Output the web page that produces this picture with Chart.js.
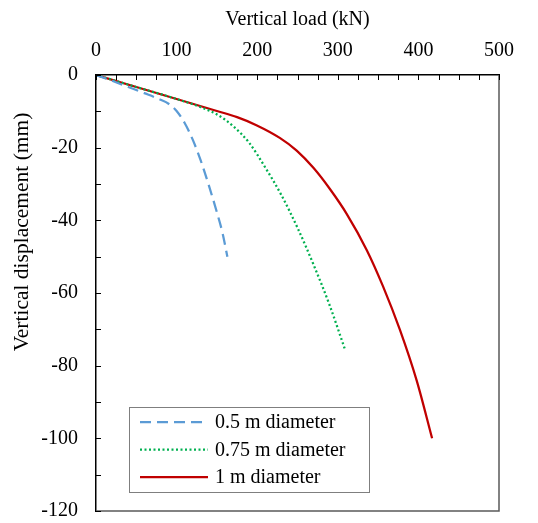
<!DOCTYPE html>
<html>
<head>
<meta charset="utf-8">
<script src="https://cdn.jsdelivr.net/npm/chart.js@4.4.1/dist/chart.umd.min.js"></script>
<style>
  html, body { margin: 0; padding: 0; background: #fff; }
  #wrap { width: 538px; height: 523px; position: relative; }
</style>
</head>
<body>
<div id="wrap"><canvas id="pileChart" width="538" height="523"></canvas></div>
<script>
// Load-displacement data
const loadSmall = [0, 20, 40, 60, 80, 90, 100, 110, 120, 130, 140, 150, 157, 163];
const dispSmall = [0, -1.6, -3.3, -5, -6.8, -7.9, -9.9, -13.2, -17.8, -23.6, -30.4, -37.8, -43.5, -50];

const loadMid = [0, 50, 100, 130, 150, 170, 190, 210, 230, 250, 270, 290, 309];
const dispMid = [0, -3.3, -6.6, -8.85, -10.85, -14.05, -18.65, -25.45, -33.05, -42.05, -52.25, -63.45, -75.6];

const loadLarge = [0, 50, 100, 150, 175, 199, 228, 249, 270, 290, 311, 336, 356, 377, 398, 417];
const dispLarge = [0, -3.3, -6.6, -9.9, -11.6, -13.8, -17.3, -20.8, -25.6, -31.3, -38.2, -48.2, -58.1, -70.1, -84.2, -100];

const seriesNames = ['0.5 m diameter', '0.75 m diameter', '1 m diameter'];

const xTitle = 'Vertical load (kN)';
const yTitle = 'Vertical displacement (mm)';

const FONT = "'Liberation Serif', 'Times New Roman', serif";

function toPoints(xs, ys) {
    return xs.map((x, i) => ({ x: x, y: ys[i] }));
}

// inward tick marks, right/bottom frame, y title and legend box
const decorations = {
    id: 'decorations',
    afterDraw(chart) {
        const ctx = chart.ctx;
        const area = chart.chartArea;
        const xs = chart.scales.x;
        const ys = chart.scales.y;
        ctx.save();

        // plot frame right + bottom
        ctx.strokeStyle = '#595959';
        ctx.lineWidth = 1.5;
        ctx.beginPath();
        ctx.moveTo(area.left, area.bottom);
        ctx.lineTo(area.right, area.bottom);
        ctx.lineTo(area.right, area.top);
        ctx.stroke();

        // ticks pointing into the plot
        ctx.strokeStyle = '#000';
        ctx.lineWidth = 1;
        ctx.beginPath();
        xs.ticks.forEach(t => {
            const px = Math.round(xs.getPixelForValue(t.value)) + 0.5;
            ctx.moveTo(px, area.top);
            ctx.lineTo(px, area.top + 5);
        });
        ys.ticks.forEach(t => {
            const py = Math.round(ys.getPixelForValue(t.value)) + 0.5;
            ctx.moveTo(area.left, py);
            ctx.lineTo(area.left + 5, py);
        });
        ctx.stroke();

        // y axis title
        ctx.fillStyle = '#000';
        ctx.font = '21.5px ' + FONT;
        ctx.textAlign = 'center';
        ctx.textBaseline = 'middle';
        ctx.translate(22, area.top + (area.bottom - area.top) * 0.36);
        ctx.rotate(-Math.PI / 2);
        ctx.fillText(yTitle, 0, 0);
        ctx.restore();

        // legend
        ctx.save();
        const bx = area.left + 33;
        const by = area.bottom - 104;
        const bw = 240;
        const bh = 85;
        ctx.fillStyle = '#fff';
        ctx.fillRect(bx, by, bw, bh);
        ctx.strokeStyle = '#7f7f7f';
        ctx.lineWidth = 1;
        ctx.strokeRect(bx + 0.5, by + 0.5, bw, bh);
        ctx.font = '20px ' + FONT;
        ctx.textAlign = 'left';
        ctx.textBaseline = 'middle';
        chart.data.datasets.forEach((ds, i) => {
            const ly = by + 15 + i * 27.5;
            ctx.strokeStyle = ds.borderColor;
            ctx.lineWidth = ds.borderWidth;
            ctx.setLineDash(ds.borderDash || []);
            ctx.beginPath();
            ctx.moveTo(bx + 11, ly);
            ctx.lineTo(bx + 79, ly);
            ctx.stroke();
            ctx.setLineDash([]);
            ctx.fillStyle = '#000';
            ctx.fillText(ds.label, bx + 86, ly + 1);
        });
        ctx.restore();
    }
};

const ctx = document.getElementById('pileChart').getContext('2d');
new Chart(ctx, {
    type: 'scatter',
    data: {
        datasets: [
            {
                label: seriesNames[0],
                data: toPoints(loadSmall, dispSmall),
                borderColor: '#5B9BD5',
                borderWidth: 2.25,
                borderDash: [11, 6]
            },
            {
                label: seriesNames[1],
                data: toPoints(loadMid, dispMid),
                borderColor: '#00B050',
                borderWidth: 2.25,
                borderDash: [2, 2.5]
            },
            {
                label: seriesNames[2],
                data: toPoints(loadLarge, dispLarge),
                borderColor: '#C00000',
                borderWidth: 2.25
            }
        ]
    },
    options: {
        responsive: false,
        animation: false,
        showLine: true,
        layout: { padding: { left: 0, right: 39, top: 0, bottom: 12 } },
        elements: {
            point: { radius: 0, hoverRadius: 0 },
            line: { cubicInterpolationMode: 'monotone', fill: false }
        },
        plugins: {
            legend: { display: false },
            tooltip: { enabled: false }
        },
        scales: {
            x: {
                type: 'linear',
                position: 'top',
                min: 0,
                max: 500,
                afterFit(scale) {
                    scale.height = 75;
                    scale.paddingLeft = 0;
                    scale.paddingRight = 0;
                    scale.paddingTop = 0;
                    scale.paddingBottom = 0;
                },
                ticks: {
                    stepSize: 25,
                    autoSkip: false,
                    maxRotation: 0,
                    padding: 12,
                    color: '#000',
                    font: { family: FONT, size: 20 },
                    callback: v => (v % 100 === 0 ? v : '')
                },
                grid: { drawOnChartArea: false, drawTicks: false },
                border: { display: true, color: '#000', width: 1.5 },
                title: {
                    display: true,
                    text: xTitle,
                    color: '#000',
                    font: { family: FONT, size: 20 },
                    padding: { top: 8, bottom: 0 }
                }
            },
            y: {
                type: 'linear',
                min: -120,
                max: 0,
                afterFit(scale) {
                    scale.width = 96;
                    scale.paddingTop = 0;
                    scale.paddingBottom = 0;
                },
                ticks: {
                    stepSize: 10,
                    autoSkip: false,
                    padding: 18,
                    color: '#000',
                    font: { family: FONT, size: 20 },
                    callback: v => (v % 20 === 0 ? v : '')
                },
                grid: { drawOnChartArea: false, drawTicks: false },
                border: { display: true, color: '#000', width: 1.5 }
            }
        }
    },
    plugins: [decorations]
});
</script>
</body>
</html>
